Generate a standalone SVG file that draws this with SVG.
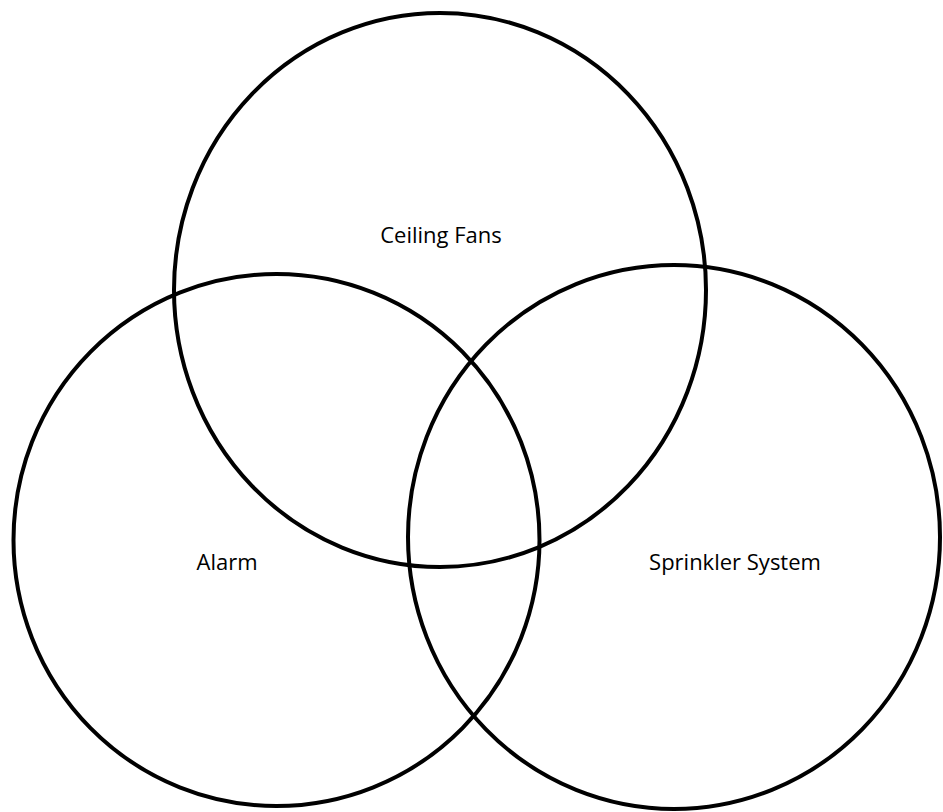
<svg xmlns="http://www.w3.org/2000/svg" width="943" height="812" viewBox="0 0 943 812">
<style>
.c{fill:none;stroke:#000;stroke-width:4}
.t{font-family:"Open Sans","Liberation Sans",sans-serif;font-size:22px;fill:#000;text-anchor:middle}
</style>
<rect width="943" height="812" fill="#fff"/>
<g id="ceiling-fans">
<ellipse class="c" cx="440" cy="290" rx="266" ry="277"/>
<text class="t" x="441" y="243">Ceiling Fans</text>
</g>
<g id="alarm">
<ellipse class="c" cx="276.5" cy="540" rx="263" ry="266"/>
<text class="t" x="227" y="570">Alarm</text>
</g>
<g id="sprinkler-system">
<ellipse class="c" cx="674" cy="537" rx="266" ry="272"/>
<text class="t" x="735" y="570">Sprinkler System</text>
</g>
</svg>
